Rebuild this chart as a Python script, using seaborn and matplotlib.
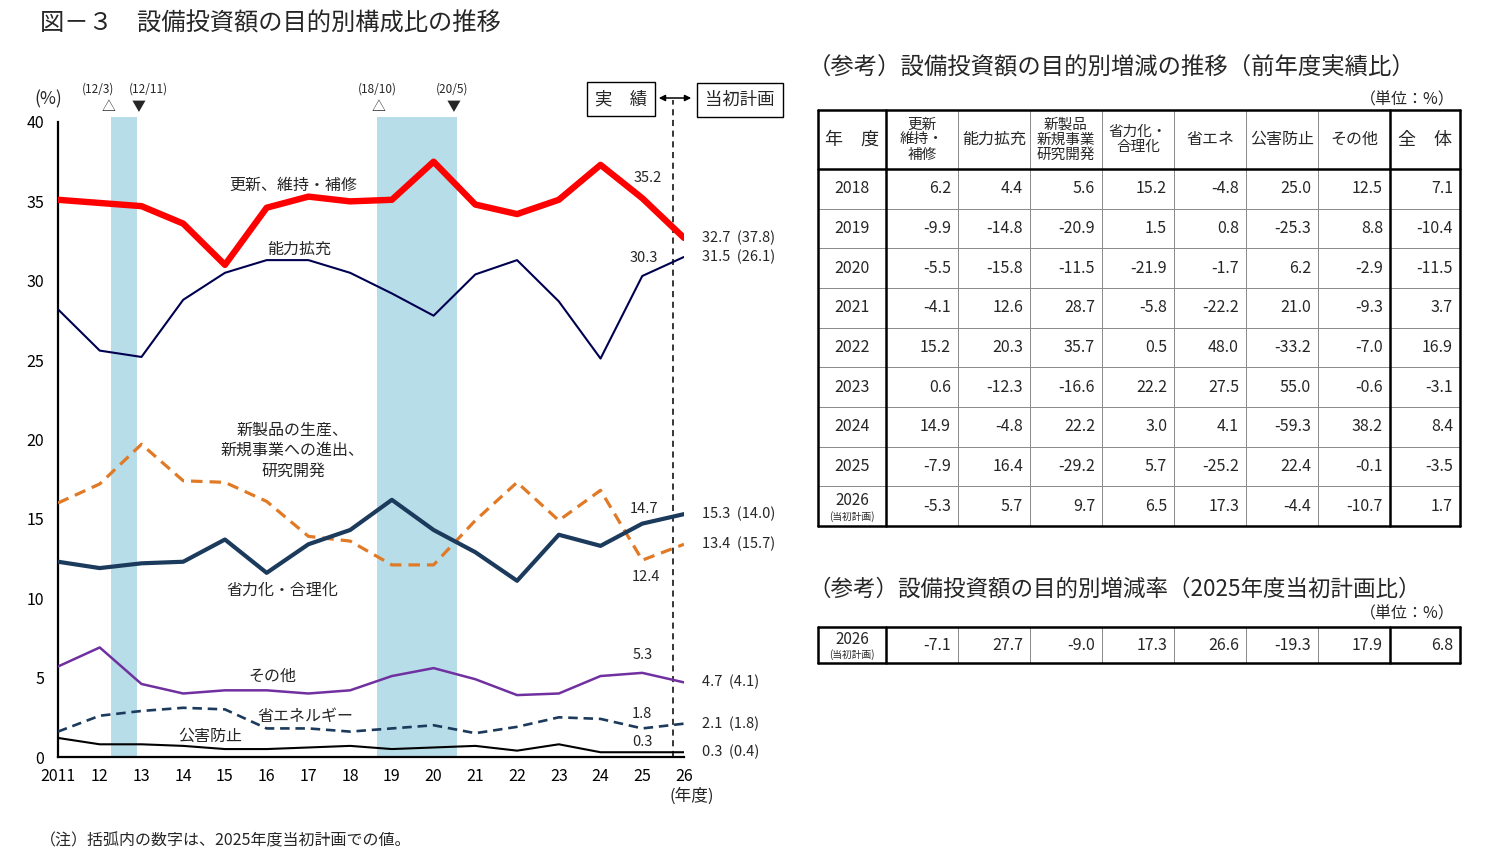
import matplotlib
matplotlib.use("Agg")
import matplotlib.pyplot as plt
import seaborn as sns
import numpy as np
import pandas as pd

# ---- data ----
years = list(range(2011, 2027))
year_labels = ["2011"] + [str(y % 100) for y in years[1:]]

renewal = [35.1, 34.9, 34.7, 33.6, 31.0, 34.6, 35.3, 35.0, 35.1, 37.5, 34.8, 34.2, 35.1, 37.3, 35.2, 32.7]
capacity = [28.2, 25.6, 25.2, 28.8, 30.5, 31.3, 31.3, 30.5, 29.2, 27.8, 30.4, 31.3, 28.7, 25.1, 30.3, 31.5]
new_product = [16.0, 17.2, 19.7, 17.4, 17.3, 16.1, 13.9, 13.6, 12.1, 12.1, 14.9, 17.3, 14.9, 16.8, 12.4, 13.4]
rationalize = [12.3, 11.9, 12.2, 12.3, 13.7, 11.6, 13.4, 14.3, 16.2, 14.3, 12.9, 11.1, 14.0, 13.3, 14.7, 15.3]
energy = [1.6, 2.6, 2.9, 3.1, 3.0, 1.8, 1.8, 1.6, 1.8, 2.0, 1.5, 1.9, 2.5, 2.4, 1.8, 2.1]
pollution = [1.2, 0.8, 0.8, 0.7, 0.5, 0.5, 0.6, 0.7, 0.5, 0.6, 0.7, 0.4, 0.8, 0.3, 0.3, 0.3]
other = [5.7, 6.9, 4.6, 4.0, 4.2, 4.2, 4.0, 4.2, 5.1, 5.6, 4.9, 3.9, 4.0, 5.1, 5.3, 4.7]

# 2025 initial-plan values shown in parentheses for 2026
plan_2025 = {"renewal": 37.8, "capacity": 26.1, "new_product": 15.7, "rationalize": 14.0,
             "energy": 1.8, "pollution": 0.4, "other": 4.1}

# recession shading (fiscal-year axis)
band_start = [2012.27, 2018.64]
band_end = [2012.90, 2020.56]
peak_x = [2012.2, 2018.67]
trough_x = [2012.93, 2020.47]
peak_lbl = ["(12/3)", "(18/10)"]
trough_lbl = ["(12/11)", "(20/5)"]
plan_start = 2025.74

# tables
col_heads = ["年　度", "更新\n維持・\n補修", "能力拡充", "新製品\n新規事業\n研究開発",
             "省力化・\n合理化", "省エネ", "公害防止", "その他", "全　体"]
yoy_years = ["2018", "2019", "2020", "2021", "2022", "2023", "2024", "2025", "2026"]
yoy_2018 = [6.2, 4.4, 5.6, 15.2, -4.8, 25.0, 12.5, 7.1]
yoy_2019 = [-9.9, -14.8, -20.9, 1.5, 0.8, -25.3, 8.8, -10.4]
yoy_2020 = [-5.5, -15.8, -11.5, -21.9, -1.7, 6.2, -2.9, -11.5]
yoy_2021 = [-4.1, 12.6, 28.7, -5.8, -22.2, 21.0, -9.3, 3.7]
yoy_2022 = [15.2, 20.3, 35.7, 0.5, 48.0, -33.2, -7.0, 16.9]
yoy_2023 = [0.6, -12.3, -16.6, 22.2, 27.5, 55.0, -0.6, -3.1]
yoy_2024 = [14.9, -4.8, 22.2, 3.0, 4.1, -59.3, 38.2, 8.4]
yoy_2025 = [-7.9, 16.4, -29.2, 5.7, -25.2, 22.4, -0.1, -3.5]
yoy_2026 = [-5.3, 5.7, 9.7, 6.5, 17.3, -4.4, -10.7, 1.7]
vs_plan_2026 = [-7.1, 27.7, -9.0, 17.3, 26.6, -19.3, 17.9, 6.8]

sns.set_style("white")
plt.rcParams["font.family"] = ["Noto Sans CJK JP", "DejaVu Sans"]

W, H = 1495, 868
fig = plt.figure(figsize=(W / 100, H / 100), dpi=100)
ax = fig.add_axes([58 / W, 1 - 757 / H, 626 / W, 635 / H])

for s, e in zip(band_start, band_end):
    ax.axvspan(s, e, ymin=0, ymax=1.008, color="#B6DDE8", lw=0, zorder=0, clip_on=False)

series = [
    ("renewal", renewal, "#FF0000", 4.6, "-"),
    ("capacity", capacity, "#000050", 1.5, "-"),
    ("new_product", new_product, "#E07A26", 2.3, (0, (3.6, 2.2))),
    ("rationalize", rationalize, "#1B3A5C", 3.0, "-"),
    ("energy", energy, "#1B3A5C", 1.9, (0, (3.6, 2.2))),
    ("pollution", pollution, "#000000", 1.5, "-"),
    ("other", other, "#7030A0", 1.8, "-"),
]
for key, vals, col, lw, ls in series:
    df = pd.DataFrame({"year": years, "v": vals})
    sns.lineplot(data=df, x="year", y="v", ax=ax, color=col, lw=lw, linestyle=ls, zorder=3)
    # 2026 value with 2025 plan value
    ax.annotate(f"{vals[-1]:.1f}  ({plan_2025[key]:.1f})", (years[-1], vals[-1]),
                xytext=(18, 0), textcoords="offset pixels", ha="left", va="center",
                fontsize=10.5, annotation_clip=False)

# 2025 values
offs_2025 = {"renewal": (5, 20), "capacity": (2, 18), "rationalize": (2, 15),
             "new_product": (4, -17), "other": (0, 18), "energy": (0, 14), "pollution": (0, 10)}
for key, vals, col, lw, ls in series:
    ax.annotate(f"{vals[-2]:.1f}", (years[-2], vals[-2]), xytext=offs_2025[key],
                textcoords="offset pixels", ha="center", va="center", fontsize=10.5)

# series labels
ax.text(2016.63, 36.0, "更新、維持・補修", ha="center", va="center", fontsize=11.5)
ax.text(2016.78, 32.0, "能力拡充", ha="center", va="center", fontsize=11.5)
ax.text(2016.63, 19.3, "新製品の生産、\n新規事業への進出、\n研究開発", ha="center", va="center",
        fontsize=11.5, linespacing=1.25)
ax.text(2016.37, 10.5, "省力化・合理化", ha="center", va="center", fontsize=11.5)
ax.text(2016.13, 5.1, "その他", ha="center", va="center", fontsize=11.5)
ax.text(2016.92, 2.55, "省エネルギー", ha="center", va="center", fontsize=11.5)
ax.text(2014.64, 1.3, "公害防止", ha="center", va="center", fontsize=11.5)

# plan divider
ax.plot([plan_start, plan_start], [0, 41.4], color="black", lw=1.1,
        linestyle=(0, (4, 3)), clip_on=False, zorder=2)

ax.set_xlim(2011, 2026)
ax.set_ylim(0, 40)
ax.set_xticks(years)
ax.set_xticklabels(year_labels)
ax.set_yticks(range(0, 41, 5))
ax.set_xlabel("")
ax.set_ylabel("")
ax.tick_params(direction="in", length=5, width=1.2, labelsize=11.5, colors="black")
ax.tick_params(axis="x", pad=8)
ax.tick_params(axis="y", pad=10)
sns.despine(ax=ax)
for sp in ("left", "bottom"):
    ax.spines[sp].set_linewidth(1.6)
    ax.spines[sp].set_color("black")

# ---- overlay in pixel coordinates ----
ov = fig.add_axes([0, 0, 1, 1], zorder=5)
ov.set_xlim(0, W)
ov.set_ylim(H, 0)
ov.axis("off")


def to_px(xd, yd):
    return 58 + (xd - 2011) * 626 / 15, 757 - yd * 635 / 40


ov.text(40, 24, "図－３　設備投資額の目的別構成比の推移", ha="left", va="center", fontsize=17.5)
ov.text(48, 99, "(%)", ha="center", va="center", fontsize=12.5)
ov.text(692, 796, "(年度)", ha="center", va="center", fontsize=12)
ov.text(40, 841, "（注）括弧内の数字は、2025年度当初計画での値。", ha="left", va="center", fontsize=11.5)

for px_, lbl, lx in zip(peak_x, peak_lbl, [98, 377]):
    x, _ = to_px(px_, 0)
    ov.text(x, 107, "△", ha="center", va="center", fontsize=10)
    ov.text(lx, 89, lbl, ha="center", va="center", fontsize=8.5)
for tx_, lbl, lx in zip(trough_x, trough_lbl, [148, 452]):
    x, _ = to_px(tx_, 0)
    ov.text(x, 107, "▼", ha="center", va="center", fontsize=10)
    ov.text(lx, 89, lbl, ha="center", va="center", fontsize=8.5)

box = dict(boxstyle="square,pad=0.45", fc="white", ec="black", lw=1.0)
ov.text(621, 99, "実　績", ha="center", va="center", fontsize=12.5, bbox=box)
ov.text(740, 100, "当初計画", ha="center", va="center", fontsize=12.5, bbox=box)
ov.annotate("", xy=(694, 98), xytext=(656, 98),
            arrowprops=dict(arrowstyle="<|-|>", color="black", lw=1.1, mutation_scale=9))

# ---- tables ----
col_edges = [818, 886, 958, 1030, 1102, 1174, 1246, 1318, 1390, 1460]
thick = 1.8
thin = 0.7


def grid(top, row_edges):
    left, right = col_edges[0], col_edges[-1]
    bottom = row_edges[-1]
    for y in row_edges[1:-1]:
        ov.plot([left, right], [y, y], color="#8a8a8a", lw=thin)
    for x in col_edges[1:-1]:
        ov.plot([x, x], [top, bottom], color="#8a8a8a", lw=thin)
    for x in (left, col_edges[1], col_edges[-2], right):
        ov.plot([x, x], [top, bottom], color="black", lw=thick)
    for y in (top, bottom):
        ov.plot([left, right], [y, y], color="black", lw=thick)


def year_cell(y0, y1, label):
    xc = (col_edges[0] + col_edges[1]) / 2
    yc = (y0 + y1) / 2
    if label == "2026":
        ov.text(xc, yc - 6, label, ha="center", va="center", fontsize=11)
        ov.text(xc, yc + 10, "(当初計画)", ha="center", va="center", fontsize=7)
    else:
        ov.text(xc, yc, label, ha="center", va="center", fontsize=11.5)


def value_cells(y0, y1, vals):
    yc = (y0 + y1) / 2
    for i, v in enumerate(vals):
        ov.text(col_edges[i + 2] - 7, yc, f"{v:.1f}", ha="right", va="center", fontsize=11.5)


ov.text(808, 68, "（参考）設備投資額の目的別増減の推移（前年度実績比）", ha="left", va="center", fontsize=16.8)
ov.text(1455, 100, "（単位：%）", ha="right", va="center", fontsize=11.5)

t1_top, hdr_bottom = 110, 169
row_h = (526 - hdr_bottom) / len(yoy_years)
t1_rows = [t1_top, hdr_bottom] + [hdr_bottom + row_h * (i + 1) for i in range(len(yoy_years))]
grid(t1_top, t1_rows)
ov.plot([col_edges[0], col_edges[-1]], [hdr_bottom, hdr_bottom], color="black", lw=thick)

for i, h in enumerate(col_heads):
    xc = (col_edges[i] + col_edges[i + 1]) / 2
    if i in (0, 8):
        fs = 13
    elif "\n" in h:
        fs = 10.5
    else:
        fs = 11.5
    ov.text(xc, (t1_top + hdr_bottom) / 2, h, ha="center", va="center", fontsize=fs, linespacing=1.1)

yoy_rows = [yoy_2018, yoy_2019, yoy_2020, yoy_2021, yoy_2022, yoy_2023, yoy_2024, yoy_2025, yoy_2026]
for i, (lbl, vals) in enumerate(zip(yoy_years, yoy_rows)):
    y0, y1 = t1_rows[i + 1], t1_rows[i + 2]
    year_cell(y0, y1, lbl)
    value_cells(y0, y1, vals)

ov.text(808, 589, "（参考）設備投資額の目的別増減率（2025年度当初計画比）", ha="left", va="center", fontsize=16.2)
ov.text(1455, 614, "（単位：%）", ha="right", va="center", fontsize=11.5)
t2_rows = [627, 663]
grid(627, t2_rows)
year_cell(627, 663, "2026")
value_cells(627, 663, vs_plan_2026)

fig.savefig("out.png", dpi=100)
